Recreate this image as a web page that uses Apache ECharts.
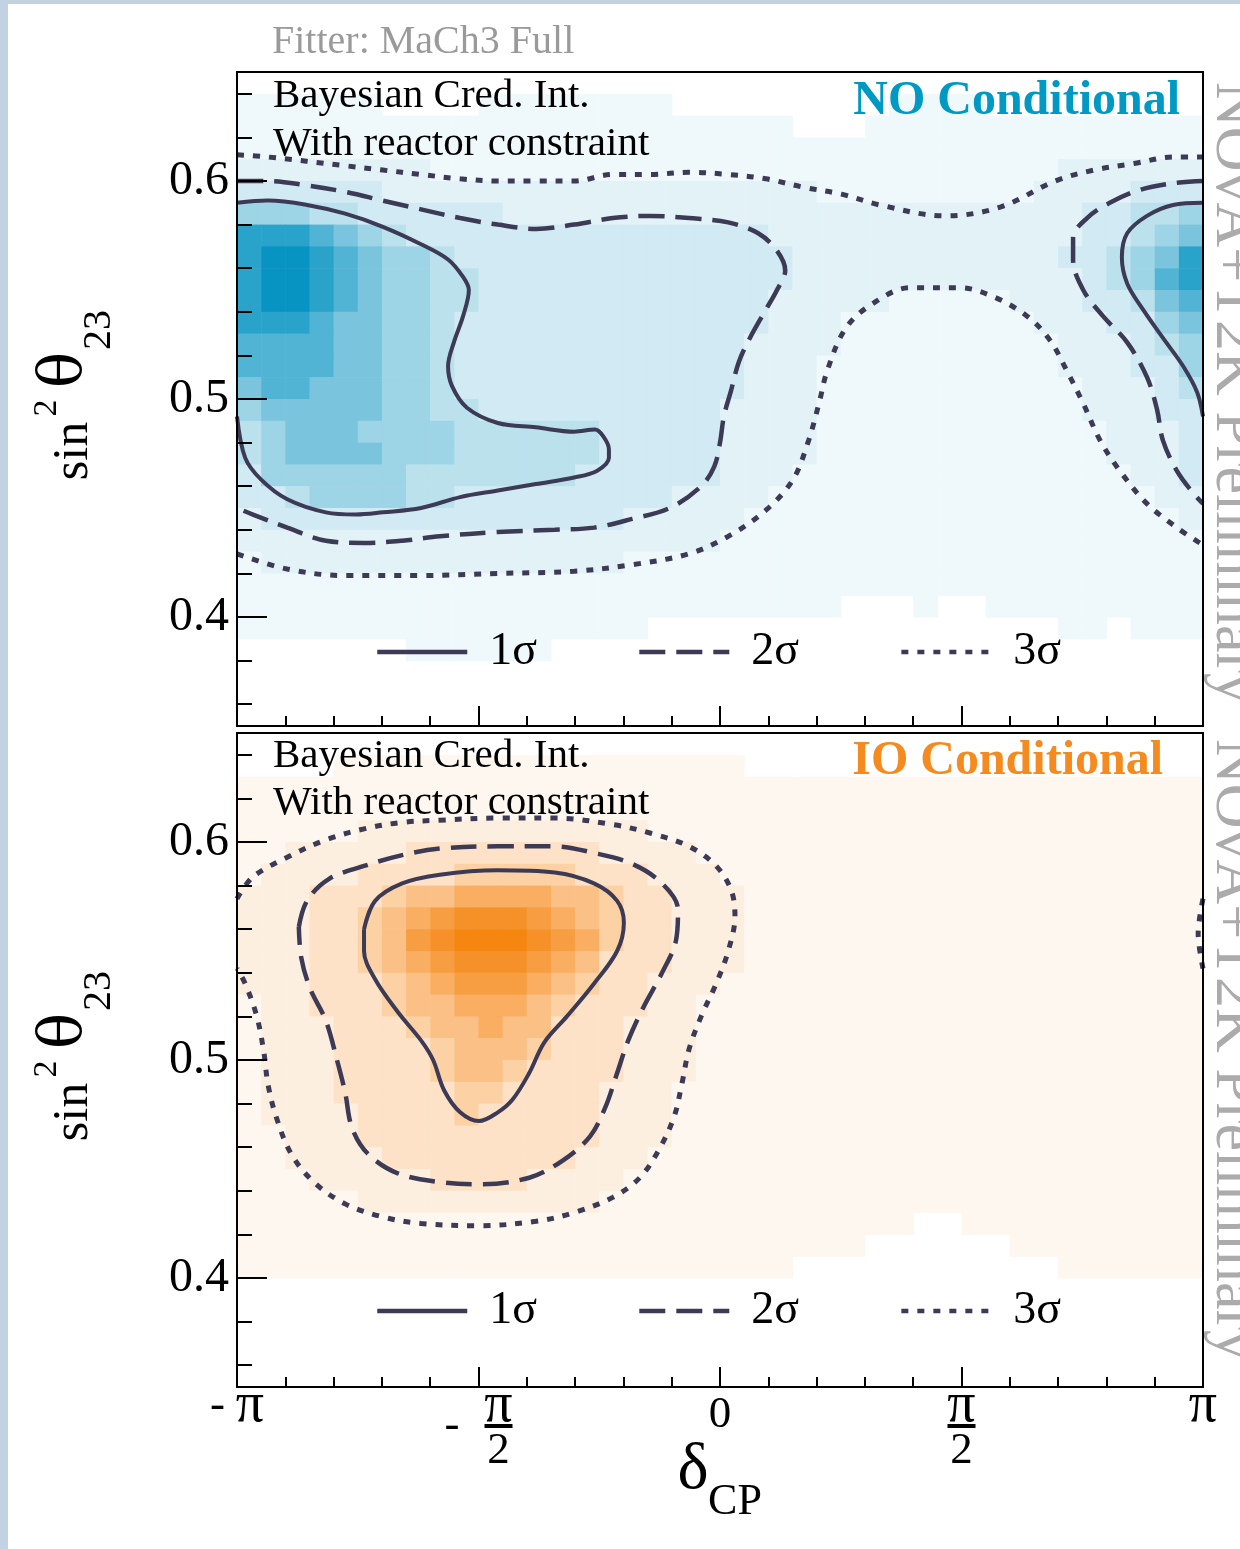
<!DOCTYPE html>
<html>
<head>
<meta charset="utf-8">
<script src="https://cdn.jsdelivr.net/npm/echarts@6/dist/echarts.min.js"></script>
<style>
  html, body { margin: 0; padding: 0; background: #fff; }
  #chart { width: 1240px; height: 1549px; }
</style>
</head>
<body>
<div id="chart"></div>
<script>
// binning of the two posterior maps: delta_CP in units of pi, sin^2(theta23)
const DELTA_MIN = -1, DELTA_STEP = 0.05;
const S2_MAX = 0.65, S2_STEP = 0.01;

// density level per bin (0 = empty, 1..9 = colour step), rows from 0.64-0.65 down to 0.35-0.36
const noDensity = [
  '0000000000 0000000000 0000000000 0000000000',
  '1111110000 1111111100 0000000111 1000000000',
  '1111111111 1111111111 1110001111 1111111111',
  '1111111111 1111111111 1111111111 1111111111',
  '2222222211 1111111111 1111111111 1111222222',
  '3333332222 2222222222 2222111111 1112222333',
  '5554433333 3222222222 2222222222 2222233445',
  '8887654333 3333333333 3322222222 2222233456',
  '8998765543 3333333333 3332222222 2222334568',
  '8998765544 3333333333 3332222222 2222234578',
  '8998765544 3333333333 3322222111 1122233467',
  '8887665543 3333333333 3322211111 1112223356',
  '7777665543 3333333333 3222211111 1111222345',
  '7777665543 3333333333 3222111111 1111222335',
  '6776665543 3333333333 3222111111 1111122234',
  '5666665544 3333333333 2222111111 1111122233',
  '4566655554 4444433333 2222111111 1111112223',
  '4566665554 4444433333 2222111111 1111112223',
  '3555555444 4444333333 2221111111 1111111223',
  '3345555443 3333333322 2211111111 1111111122',
  '2333333333 3333332222 2111111111 1111111112',
  '2222222222 2222222222 1111111111 1111111111',
  '1222222222 2222221111 1111111111 1111111111',
  '1111111111 1111111111 1111111111 1111111111',
  '1111111111 1111111111 1111100010 0111111111',
  '1111111111 1111111000 0000000000 0000110111',
  '0000000111 1110000000 0000000000 0000000000',
  '0000000000 0000000000 0000000000 0000000000',
  '0000000000 0000000000 0000000000 0000000000',
  '0000000000 0000000000 0000000000 0000000000'
];

const ioDensity = [
  '0000000000 0000000000 0000000000 0000000000',
  '0000111111 1111111111 1000000000 0000000000',
  '1111111111 1111111111 1111111111 1111111111',
  '1111111111 1111111111 1111111111 1111111111',
  '1111122222 2222222111 1111111111 1111111111',
  '1122222333 3333322221 1111111111 1111111111',
  '1222233334 4444333222 1111111111 1111111111',
  '2223334556 6665543322 2111111111 1111111111',
  '2223345678 8876543322 2111111111 1111111111',
  '2223345789 9987643322 2111111111 1111111111',
  '2223345678 8876533322 2111111111 1111111111',
  '2223334567 7765433222 1111111111 1111111111',
  '1223334556 6654333221 1111111111 1111111111',
  '1222333455 6553332221 1111111111 1111111111',
  '1222333345 5543332221 1111111111 1111111111',
  '1222333345 5433332221 1111111111 1111111111',
  '1222333334 4333322211 1111111111 1111111111',
  '1222233334 3333322211 1111111111 1111111111',
  '1122233333 3333322211 1111111111 1111111111',
  '1122223333 3333222111 1111111111 1111111111',
  '1112222233 3322221111 1111111111 1111111111',
  '1111122222 2222211111 1111111111 1111111111',
  '1111111111 1111111111 1111111100 1111111111',
  '1111111111 1111111111 1111110000 0011111111',
  '1111111111 1111111111 1110000000 0000111111',
  '0000000000 0000000000 0000000000 0000000000',
  '0000000000 0000000000 0000000000 0000000000',
  '0000000000 0000000000 0000000000 0000000000',
  '0000000000 0000000000 0000000000 0000000000',
  '0000000000 0000000000 0000000000 0000000000'
];

// credible-interval contours, [delta_CP / pi, sin^2 theta23]
const noOneSigmaLeft = [[-1.000,0.590],[-0.936,0.591],[-0.855,0.589],[-0.776,0.585],[-0.698,0.579],[-0.619,0.571],[-0.563,0.564],[-0.532,0.556],[-0.520,0.550],[-0.532,0.538],[-0.551,0.526],[-0.563,0.515],[-0.555,0.506],[-0.524,0.496],[-0.460,0.489],[-0.381,0.487],[-0.302,0.485],[-0.259,0.486],[-0.242,0.483],[-0.230,0.477],[-0.230,0.473],[-0.255,0.467],[-0.302,0.464],[-0.381,0.461],[-0.460,0.458],[-0.538,0.455],[-0.619,0.450],[-0.698,0.448],[-0.754,0.447],[-0.816,0.448],[-0.896,0.454],[-0.950,0.463],[-0.983,0.473],[-1.000,0.492]];
const noOneSigmaRight = [[1.000,0.590],[0.938,0.589],[0.884,0.584],[0.843,0.576],[0.832,0.565],[0.843,0.553],[0.876,0.541],[0.917,0.528],[0.959,0.515],[0.988,0.503],[1.000,0.492]];
const noTwoSigmaLeft = [[-1.000,0.600],[-0.936,0.600],[-0.855,0.598],[-0.776,0.595],[-0.698,0.591],[-0.619,0.587],[-0.538,0.583],[-0.460,0.580],[-0.381,0.578],[-0.302,0.580],[-0.222,0.583],[-0.143,0.584],[-0.064,0.583],[0.017,0.581],[0.079,0.576],[0.118,0.568],[0.135,0.559],[0.118,0.550],[0.095,0.541],[0.062,0.528],[0.039,0.517],[0.023,0.504],[0.008,0.492],[0.000,0.480],[-0.012,0.469],[-0.039,0.460],[-0.104,0.450],[-0.182,0.445],[-0.261,0.441],[-0.342,0.440],[-0.460,0.439],[-0.580,0.437],[-0.658,0.435],[-0.737,0.434],[-0.816,0.435],[-0.896,0.441],[-0.967,0.447],[-1.000,0.450]];
const noTwoSigmaRight = [[1.000,0.600],[0.938,0.599],[0.870,0.596],[0.807,0.590],[0.760,0.583],[0.731,0.574],[0.731,0.564],[0.752,0.550],[0.793,0.538],[0.843,0.526],[0.884,0.510],[0.905,0.495],[0.917,0.481],[0.946,0.467],[0.979,0.457],[1.000,0.452]];
const noThreeSigmaUpper = [[-1.000,0.612],[-0.936,0.611],[-0.776,0.607],[-0.698,0.605],[-0.619,0.603],[-0.538,0.601],[-0.460,0.600],[-0.381,0.600],[-0.302,0.600],[-0.222,0.603],[-0.143,0.603],[-0.064,0.604],[0.017,0.603],[0.095,0.601],[0.176,0.597],[0.251,0.594],[0.331,0.589],[0.466,0.584],[0.580,0.588],[0.694,0.600],[0.774,0.605],[0.857,0.608],[0.940,0.611],[1.000,0.611]];
const noThreeSigmaLower = [[-1.000,0.429],[-0.896,0.422],[-0.776,0.419],[-0.619,0.419],[-0.460,0.420],[-0.302,0.421],[-0.182,0.424],[-0.064,0.429],[0.017,0.437],[0.095,0.449],[0.151,0.463],[0.182,0.480],[0.205,0.498],[0.222,0.513],[0.259,0.532],[0.311,0.543],[0.393,0.551],[0.497,0.551],[0.565,0.547],[0.636,0.538],[0.683,0.527],[0.718,0.513],[0.752,0.498],[0.787,0.481],[0.828,0.467],[0.884,0.452],[0.946,0.441],[1.000,0.433]];

const ioOneSigma = [[-0.737,0.560],[-0.714,0.573],[-0.658,0.581],[-0.580,0.585],[-0.460,0.587],[-0.342,0.586],[-0.261,0.581],[-0.213,0.573],[-0.199,0.563],[-0.213,0.550],[-0.261,0.535],[-0.317,0.520],[-0.364,0.508],[-0.395,0.494],[-0.429,0.482],[-0.460,0.476],[-0.499,0.472],[-0.538,0.476],[-0.571,0.486],[-0.594,0.500],[-0.619,0.509],[-0.667,0.522],[-0.714,0.537],[-0.737,0.550],[-0.737,0.560]];
const ioTwoSigma = [[-0.872,0.561],[-0.855,0.573],[-0.810,0.583],[-0.737,0.589],[-0.658,0.594],[-0.580,0.597],[-0.460,0.598],[-0.342,0.598],[-0.261,0.595],[-0.182,0.590],[-0.120,0.581],[-0.087,0.569],[-0.091,0.555],[-0.120,0.540],[-0.159,0.524],[-0.190,0.509],[-0.213,0.494],[-0.238,0.478],[-0.269,0.465],[-0.325,0.454],[-0.395,0.446],[-0.499,0.443],[-0.580,0.444],[-0.667,0.448],[-0.729,0.457],[-0.762,0.469],[-0.776,0.485],[-0.793,0.500],[-0.816,0.518],[-0.849,0.533],[-0.867,0.547],[-0.872,0.561]];
const ioThreeSigmaLeft = [[-1.000,0.574],[-0.967,0.584],[-0.896,0.593],[-0.816,0.601],[-0.737,0.606],[-0.658,0.609],[-0.580,0.610],[-0.460,0.611],[-0.342,0.611],[-0.222,0.608],[-0.143,0.604],[-0.064,0.598],[-0.008,0.589],[0.023,0.578],[0.031,0.566],[0.017,0.550],[-0.008,0.535],[-0.039,0.520],[-0.064,0.505],[-0.079,0.489],[-0.095,0.474],[-0.126,0.459],[-0.166,0.446],[-0.222,0.437],[-0.302,0.430],[-0.381,0.426],[-0.499,0.424],[-0.619,0.425],[-0.698,0.428],[-0.776,0.434],[-0.841,0.444],[-0.888,0.457],[-0.919,0.474],[-0.936,0.489],[-0.944,0.503],[-0.959,0.520],[-0.983,0.535],[-1.000,0.542]];
const ioThreeSigmaRight = [[1.000,0.574],[0.990,0.558],[1.000,0.542]];

// axis ticks and labels
const s2MajorTicks = [0.4, 0.5, 0.6];
const s2MinorTicks = [0.36, 0.38, 0.42, 0.44, 0.46, 0.48, 0.52, 0.54, 0.56, 0.58, 0.62, 0.64];
const deltaTickValues = [-1, -0.5, 0, 0.5, 1];
const deltaTickLabels = [
  '{ms|-}{p|π}',
  '{gap| }{p|π}\n{m|-}{bar| }\n{gap| }{t|2}',
  '{z|0}',
  '{p|π}\n{bar| }\n{t|2}',
  '{p|π}'
];
const legendNames = ['1σ', '2σ', '3σ'];

const blues = ['', '#eff8fb', '#e2f2f7', '#d1eaf3', '#bbe1ed', '#9dd4e6', '#7ac5dd', '#52b4d4', '#2aa3ca', '#0894c2'];
const oranges = ['', '#fef7ef', '#fdefe0', '#fde2c7', '#fcd1a4', '#fbc085', '#f9ae62', '#f89e42', '#f69129', '#f5860f'];
const lineColor = '#3c3a55';
const serif = 'Liberation Serif';

function cells(rows) {
  const out = [];
  rows.forEach((row, r) => {
    const s = row.replace(/ /g, '');
    for (let i = 0; i < s.length; i++) {
      const level = Number(s[i]);
      if (level > 0) out.push([DELTA_MIN + i * DELTA_STEP, S2_MAX - (r + 1) * S2_STEP, level]);
    }
  });
  return out;
}

function heat(rows, g, palette) {
  return {
    type: 'custom',
    xAxisIndex: g,
    yAxisIndex: g * 2,
    data: cells(rows),
    encode: { x: 0, y: 1 },
    silent: true,
    z: 1,
    renderItem: (params, api) => {
      const a = api.coord([api.value(0), api.value(1) + S2_STEP]);
      const b = api.coord([api.value(0) + DELTA_STEP, api.value(1)]);
      return {
        type: 'rect',
        shape: { x: a[0], y: a[1], width: b[0] - a[0] + 0.6, height: b[1] - a[1] + 0.6 },
        style: { fill: palette[api.value(2)] }
      };
    }
  };
}

const dashFor = { '1σ': 'solid', '2σ': [26, 11], '3σ': [7, 9] };
const widthFor = { '1σ': 4, '2σ': 4.5, '3σ': 5 };

function contour(name, data, g) {
  return {
    type: 'line',
    name,
    xAxisIndex: g,
    yAxisIndex: g * 2,
    data,
    smooth: 0.35,
    symbol: 'none',
    silent: true,
    z: 5,
    color: lineColor,
    itemStyle: { color: lineColor, opacity: 0 },
    lineStyle: { color: lineColor, width: widthFor[name], type: dashFor[name], cap: 'butt' }
  };
}

const gridBoxes = [
  { left: 237, top: 72, width: 966, height: 654 },
  { left: 237, top: 733, width: 966, height: 654 }
];

const xAxes = [0, 1].map(g => ({
  type: 'value',
  gridIndex: g,
  min: -1,
  max: 1,
  interval: 0.5,
  z: 10,
  axisLine: { show: true, onZero: false, lineStyle: { color: '#000', width: 2 } },
  axisTick: { show: true, inside: true, length: 20, lineStyle: { color: '#000', width: 2 } },
  minorTick: { show: true, splitNumber: 5, length: 10, lineStyle: { color: '#000', width: 2 } },
  splitLine: { show: false },
  minorSplitLine: { show: false },
  axisLabel: {
    show: g === 1,
    margin: 7,
    color: '#000',
    formatter: v => deltaTickLabels[deltaTickValues.indexOf(Math.round(v * 2) / 2)] || '',
    rich: {
      p: { fontFamily: serif, fontSize: 56, lineHeight: 24, width: 28, align: 'center', color: '#000' },
      ms: { fontFamily: serif, fontSize: 45, lineHeight: 24, width: 26, align: 'left', color: '#000' },
      m: { fontFamily: serif, fontSize: 45, lineHeight: 16, width: 40, align: 'left', color: '#000' },
      gap: { fontFamily: serif, fontSize: 10, lineHeight: 24, width: 40 },
      bar: { fontSize: 4, width: 28, height: 4, lineHeight: 16, backgroundColor: '#000' },
      t: { fontFamily: serif, fontSize: 45, lineHeight: 34, width: 28, align: 'center', color: '#000' },
      z: { fontFamily: serif, fontSize: 45, lineHeight: 42, color: '#000' }
    }
  }
}));

const yAxes = [];
[0, 1].forEach(g => {
  yAxes.push({
    type: 'value',
    gridIndex: g,
    min: 0.35,
    max: 0.65,
    position: 'left',
    z: 10,
    axisLine: { show: true, onZero: false, lineStyle: { color: '#000', width: 2 } },
    axisTick: { show: true, inside: true, length: 30, customValues: s2MajorTicks, lineStyle: { color: '#000', width: 2 } },
    axisLabel: {
      customValues: s2MajorTicks,
      formatter: v => v.toFixed(1),
      fontFamily: serif,
      fontSize: 48,
      color: '#000',
      margin: 8
    },
    splitLine: { show: false }
  });
  yAxes.push({
    type: 'value',
    gridIndex: g,
    min: 0.35,
    max: 0.65,
    position: 'left',
    z: 10,
    axisLine: { show: false, onZero: false },
    axisTick: { show: true, inside: true, length: 15, customValues: s2MinorTicks, lineStyle: { color: '#000', width: 2 } },
    axisLabel: { show: false },
    splitLine: { show: false }
  });
});

function txt(text, x, y, size, opts) {
  const o = opts || {};
  return {
    type: 'text',
    x, y,
    rotation: o.rotation || 0,
    z: 50,
    silent: true,
    style: {
      text,
      fontFamily: o.family || serif,
      fontSize: size,
      fontWeight: o.weight || 'normal',
      fill: o.fill || '#000',
      align: o.align || 'left',
      verticalAlign: 'middle',
      textAlign: o.align || 'left',
      textVerticalAlign: 'middle'
    }
  };
}

const graphics = [
  { type: 'rect', shape: { x: 0, y: 0, width: 8, height: 1549 }, style: { fill: '#c3d2e3' }, z: 60, silent: true },
  { type: 'rect', shape: { x: 0, y: 0, width: 1240, height: 4 }, style: { fill: '#c3d2e3' }, z: 60, silent: true },
  txt('Fitter: MaCh3 Full', 272, 42, 40, { fill: '#9a9a9a' }),
  txt('Bayesian Cred. Int.', 273, 96, 41),
  txt('With reactor constraint', 273, 144, 41),
  txt('NO Conditional', 1180, 102, 48, { align: 'right', weight: 'bold', fill: '#0099c4' }),
  txt('Bayesian Cred. Int.', 273, 756, 41),
  txt('With reactor constraint', 273, 803, 41),
  txt('IO Conditional', 1163, 762, 48, { align: 'right', weight: 'bold', fill: '#f58a1f' }),
  txt('NOvA+T2K Preliminary', 1233, 393, 62, { align: 'center', rotation: -Math.PI / 2, fill: '#ababab' }),
  txt('NOvA+T2K Preliminary', 1233, 1050, 62, { align: 'center', rotation: -Math.PI / 2, fill: '#ababab' }),
  txt('δ', 693, 1471, 66, { align: 'center' }),
  txt('CP', 735, 1502, 44, { align: 'center' })
];
[0, 661].forEach(dy => {
  graphics.push(txt('sin', 74, 451 + dy, 50, { align: 'center', rotation: Math.PI / 2 }));
  graphics.push(txt('2', 47, 408 + dy, 34, { align: 'center', rotation: Math.PI / 2 }));
  graphics.push(txt('θ', 65, 370 + dy, 60, { align: 'center', rotation: Math.PI / 2, family: 'DejaVu Serif' }));
  graphics.push(txt('23', 99, 330 + dy, 40, { align: 'center', rotation: Math.PI / 2 }));
});

const chart = echarts.init(document.getElementById('chart'), null, { renderer: 'canvas' });
chart.setOption({
  animation: false,
  backgroundColor: '#fff',
  textStyle: { fontFamily: serif },
  grid: gridBoxes.map(b => ({ ...b, show: true, z: 12, borderColor: '#000', borderWidth: 2, backgroundColor: 'transparent' })),
  xAxis: xAxes,
  yAxis: yAxes,
  legend: [629, 1288].map(top => ({
    data: legendNames,
    left: 375,
    top,
    padding: 0,
    orient: 'horizontal',
    itemWidth: 90,
    itemHeight: 42,
    itemGap: 100,
    selectedMode: false,
    itemStyle: { opacity: 0 },
    lineStyle: { width: 4.5, color: lineColor },
    textStyle: { fontFamily: serif, fontSize: 46, color: '#000', padding: [0, 0, 0, 17] }
  })),
  graphic: { elements: graphics },
  series: [
    heat(noDensity, 0, blues),
    heat(ioDensity, 1, oranges),
    contour('3σ', noThreeSigmaUpper, 0),
    contour('3σ', noThreeSigmaLower, 0),
    contour('2σ', noTwoSigmaLeft, 0),
    contour('2σ', noTwoSigmaRight, 0),
    contour('1σ', noOneSigmaLeft, 0),
    contour('1σ', noOneSigmaRight, 0),
    contour('3σ', ioThreeSigmaLeft, 1),
    contour('3σ', ioThreeSigmaRight, 1),
    contour('2σ', ioTwoSigma, 1),
    contour('1σ', ioOneSigma, 1)
  ]
});
</script>
</body>
</html>
